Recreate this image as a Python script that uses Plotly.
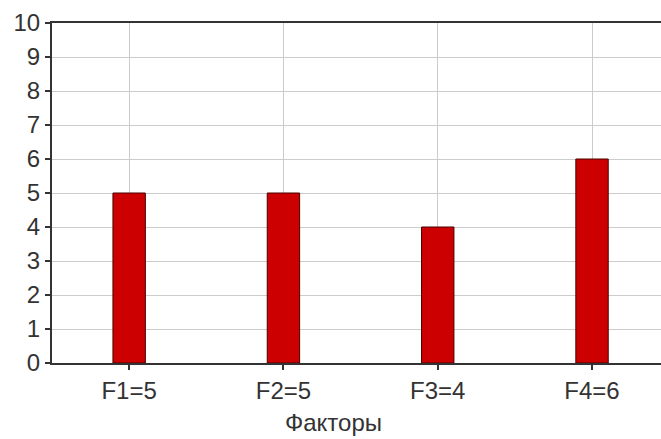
import plotly.graph_objects as go

categories = ["F1=5", "F2=5", "F3=4", "F4=6"]
values = [5, 5, 4, 6]
y_ticks = list(range(0, 11))
x_title = "Факторы"

fig = go.Figure(go.Bar(
    x=categories, y=values, width=0.21,
    marker=dict(color="#CC0000", line=dict(color="#4a0000", width=1)),
))

font = dict(family="Liberation Sans, Arial, sans-serif", size=24, color="#333333")

fig.update_layout(
    width=661, height=439,
    margin=dict(l=52, r=0, t=23, b=76, autoexpand=False),
    plot_bgcolor="white", paper_bgcolor="white",
    font=font, showlegend=False,
    xaxis=dict(
        range=[-0.5, 3.447], automargin=False,
        showgrid=True, gridcolor="#cccccc", gridwidth=1,
        showline=True, linecolor="#333333", linewidth=2, mirror=True,
        ticks="outside", ticklen=5, tickcolor="#333333", tickwidth=2,
        tickfont=font,
    ),
    yaxis=dict(
        range=[0, 10], tickvals=y_ticks, automargin=False,
        showgrid=True, gridcolor="#cccccc", gridwidth=1,
        showline=True, linecolor="#333333", linewidth=2,
        ticks="outside", ticklen=5, tickcolor="#333333", tickwidth=2,
        zeroline=False, tickfont=font,
    ),
    annotations=[dict(
        text=x_title, xref="paper", yref="paper", x=0.463, y=-0.176,
        xanchor="center", yanchor="middle", showarrow=False, font=font,
    )],
)

fig.write_html("out.html", config={"displayModeBar": False},
               post_script="document.body.style.margin='0';")
